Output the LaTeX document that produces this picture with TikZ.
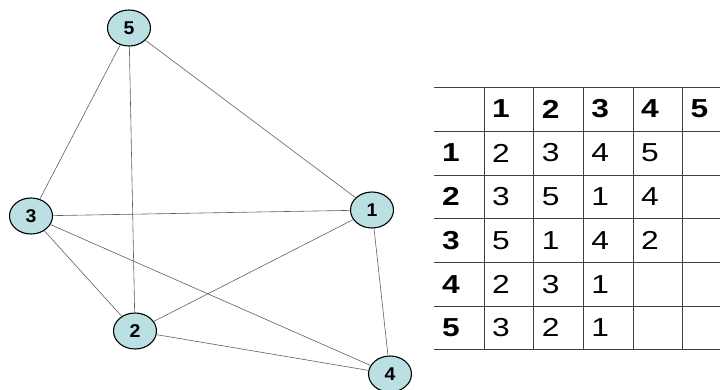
\documentclass[tikz,border=0pt]{standalone}
\usepackage{fontspec}
\setmainfont{Liberation Sans}
\newfontfamily\tabfont[FakeStretch=1.22]{Liberation Sans}
\newfontfamily\vertfont[FakeStretch=1.05]{Liberation Sans}
\usetikzlibrary{shapes.geometric}
\definecolor{nodefill}{RGB}{187,224,227}
\definecolor{edgegray}{RGB}{95,95,95}
\tikzset{
  vert/.style={ellipse, draw=black, line width=1.1pt, fill=nodefill, minimum width=43pt, minimum height=36pt, inner sep=0pt, font=\vertfont\fontsize{18.5}{18.5}\selectfont\bfseries},
  edge/.style={draw=edgegray, line width=0.6pt},
  grid/.style={draw=black!75, line width=0.9pt},
  hd/.style={anchor=west, inner sep=0pt, font=\tabfont\fontsize{26}{26}\selectfont\bfseries},
  cell/.style={anchor=west, inner sep=0pt, font=\tabfont\fontsize{26}{26}\selectfont}
}
\begin{document}
\begin{tikzpicture}[x=1pt,y=-1pt]
\useasboundingbox (0,0) rectangle (720,389);
\node[vert] (n5) at (129,28) {5};
\node[vert] (n3) at (31,216) {3};
\node[vert] (n1) at (372,210) {1};
\node[vert] (n2) at (135,331) {2};
\node[vert] (n4) at (390,374) {4};
\path[edge] (n5) -- (n3);
\path[edge] (n5) -- (n2);
\path[edge] (n5) -- (n1);
\path[edge] (n3) -- (n1);
\path[edge] (n3) -- (n2);
\path[edge] (n3) -- (n4);
\path[edge] (n1) -- (n2);
\path[edge] (n1) -- (n4);
\path[edge] (n2) -- (n4);
% table
\foreach \y in {87,131,175,218,262,306,349} \draw[grid] (434,\y) -- (720,\y);
\foreach \x in {484,533,583,633,682} \draw[grid] (\x,87) -- (\x,349);
% header
\foreach \t [count=\i] in {1,2,3,4,5} {
  \pgfmathsetmacro{\xx}{484+49.6*(\i-1)+8}
  \node[hd] (h\i) at (\xx,109) {\t};
}
\foreach \t [count=\i] in {1,2,3,4,5} {
  \pgfmathsetmacro{\yy}{131+43.7*(\i-1)+22}
  \node[hd] (r\i) at (442,\yy) {\t};
}
\newcommand{\trow}[2]{%
  \foreach \t [count=\j] in {#2} {
    \pgfmathsetmacro{\xx}{484+49.6*(\j-1)+8}
    \pgfmathsetmacro{\yy}{131+43.7*(#1-1)+22}
    \node[cell] at (\xx,\yy) {\t};
  }}
\trow{1}{2,3,4,5}
\trow{2}{3,5,1,4}
\trow{3}{5,1,4,2}
\trow{4}{2,3,1}
\trow{5}{3,2,1}
\end{tikzpicture}
\end{document}
